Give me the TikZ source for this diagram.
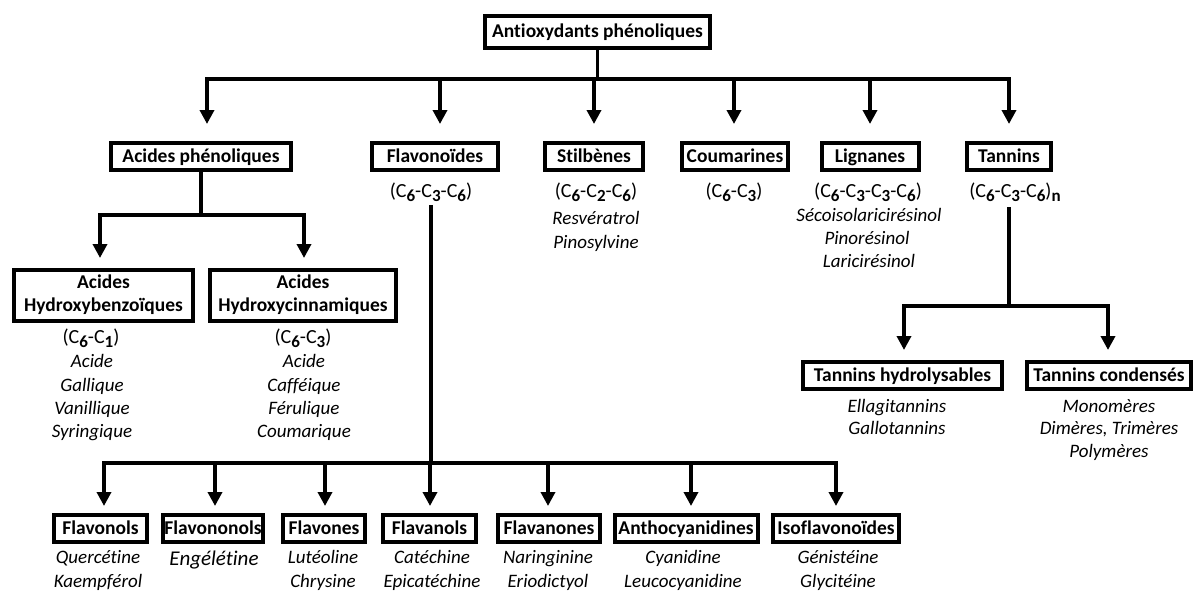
\documentclass[tikz,border=0pt]{standalone}
\usepackage{fontspec}
\setmainfont{Carlito}[Ligatures={NoCommon}]
\usetikzlibrary{arrows.meta}
\newcommand\sbb[1]{\raisebox{-4.5pt}{\fontsize{17}{17}\selectfont\bfseries #1}}
\begin{document}
\begin{tikzpicture}[x=1pt,y=-1pt,
 box/.style={draw, line width=4pt, inner sep=0pt, font=\bfseries\fontsize{19.5}{23}\selectfont, align=center},
 one/.style={text height=14.5pt, text depth=3.5pt},
 conn/.style={line width=3.5pt},
 arr/.style={line width=3.5pt, -{Triangle[width=14pt,length=14pt]}},
 frm/.style={font=\fontsize{20}{24}\selectfont, inner sep=0pt, anchor=base},
 itx/.style={font=\itshape\fontsize{19}{23}\selectfont, inner sep=0pt, anchor=base},
]
\useasboundingbox (0,0) rectangle (1195,592);
% boxes
\node[box, one, minimum width=225pt, minimum height=32pt] (top) at (597.5,32) {Antioxydants phénoliques};
\node[box, one, minimum width=180pt, minimum height=27pt] (acp) at (201,156.5) {Acides phénoliques};
\node[box, one, minimum width=126pt, minimum height=27pt] (flav) at (435,156.5) {Flavonoïdes};
\node[box, one, minimum width=98pt, minimum height=27pt] (stil) at (594,156.5) {Stilbènes};
\node[box, one, minimum width=106pt, minimum height=27pt] (coum) at (735,156.5) {Coumarines};
\node[box, one, minimum width=97pt, minimum height=27pt] (lig) at (870,156.5) {Lignanes};
\node[box, one, minimum width=84pt, minimum height=27pt] (tan) at (1009,156.5) {Tannins};
\node[box, minimum width=179pt, minimum height=51pt] (hb) at (103.5,295) {Acides\\Hydroxybenzoïques};
\node[box, minimum width=186pt, minimum height=51pt] (hc) at (303,295) {Acides\\Hydroxycinnamiques};
\node[box, one, minimum width=199pt, minimum height=27pt] (hyd) at (902.5,375.5) {Tannins hydrolysables};
\node[box, one, minimum width=164pt, minimum height=27pt] (cond) at (1109,375.5) {Tannins condensés};
\node[box, one, minimum width=93pt, minimum height=27pt] (flvl) at (100.5,528.5) {Flavonols};
\node[box, one, minimum width=100pt, minimum height=27pt] (flvn) at (213,528.5) {Flavononols};
\node[box, one, minimum width=82pt, minimum height=27pt] (flvs) at (324,528.5) {Flavones};
\node[box, one, minimum width=93pt, minimum height=27pt] (flnl) at (429.5,528.5) {Flavanols};
\node[box, one, minimum width=102pt, minimum height=27pt] (flnn) at (549,528.5) {Flavanones};
\node[box, one, minimum width=143pt, minimum height=27pt] (anth) at (686,528.5) {Anthocyanidines};
\node[box, one, minimum width=126pt, minimum height=27pt] (iso) at (836,528.5) {Isoflavonoïdes};
% formulas
\node[frm] (fform) at (431,197) {(C\sbb6-C\sbb3-C\sbb6)};
\node[frm] (sform) at (596,197) {(C\sbb6-C\sbb2-C\sbb6)};
\node[frm] (cform) at (734,197) {(C\sbb6-C\sbb3)};
\node[frm] (lform) at (868,197) {(C\sbb6-C\sbb3-C\sbb3-C\sbb6)};
\node[frm] (tform) at (1015,197) {(C\sbb6-C\sbb3-C\sbb6)\sbb{n}};
\node[frm] (hbform) at (91,343) {(C\sbb6-C\sbb1)};
\node[frm] (hcform) at (303,343) {(C\sbb6-C\sbb3)};
% examples
\node[itx] (s1) at (596,224) {Resvératrol};
\node[itx] (s2) at (596,248) {Pinosylvine};
\node[itx] (l1) at (869,221) {Sécoisolaricirésinol};
\node[itx] (l2) at (867,244) {Pinorésinol};
\node[itx] (l3) at (869,267) {Laricirésinol};
\node[itx] (a1) at (92,367) {Acide};
\node[itx] (a2) at (92,391) {Gallique};
\node[itx] (a3) at (92,414) {Vanillique};
\node[itx] (a4) at (92,437) {Syringique};
\node[itx] (c1) at (304,367) {Acide};
\node[itx] (c2) at (304,391) {Cafféique};
\node[itx] (c3) at (304,414) {Férulique};
\node[itx] (c4) at (304,437) {Coumarique};
\node[itx] (t1) at (897,412) {Ellagitannins};
\node[itx] (t2) at (897,434) {Gallotannins};
\node[itx] (t3) at (1109,412) {Monomères};
\node[itx] (t4) at (1109,434) {Dimères, Trimères};
\node[itx] (t5) at (1109,457) {Polymères};
\node[itx] (b1) at (98,563) {Quercétine};
\node[itx] (b2) at (98,587) {Kaempférol};
\node[itx, font=\itshape\fontsize{21}{24}\selectfont] (b3) at (214,565) {Engélétine};
\node[itx] (b4) at (323,563) {Lutéoline};
\node[itx] (b5) at (323,587) {Chrysine};
\node[itx] (b6) at (432,563) {Catéchine};
\node[itx] (b7) at (432,587) {Epicatéchine};
\node[itx] (b8) at (548,563) {Naringinine};
\node[itx] (b9) at (548,587) {Eriodictyol};
\node[itx] (b10) at (683,563) {Cyanidine};
\node[itx] (b11) at (683,587) {Leucocyanidine};
\node[itx] (b12) at (838,563) {Génistéine};
\node[itx] (b13) at (838,587) {Glycitéine};
% connectors
\coordinate (hub) at (597.5,79);
\draw[conn] (top.south) -- (hub);
\draw[arr, shorten >=17pt] (hub) -| ([xshift=6pt]acp.north);
\draw[arr, shorten >=17pt] (hub) -| ([xshift=5pt]flav.north);
\draw[arr, shorten >=17pt] (hub) -| (stil.north);
\draw[arr, shorten >=17pt] (hub) -| ([xshift=-1pt]coum.north);
\draw[arr, shorten >=17pt] (hub) -| (lig.north);
\draw[arr, shorten >=17pt] (hub) -| (tan.north);
\coordinate (ahub) at (201,215);
\draw[conn] (acp) -- (ahub);
\draw[arr, shorten >=9.5pt] (ahub) -| ([xshift=-3.5pt]hb.north);
\draw[arr, shorten >=9.5pt] (ahub) -| ([xshift=1pt]hc.north);
\coordinate (fhub) at (431,463);
\draw[conn, shorten <=3pt] (fform.south) -- (fhub);
\draw[arr, shorten >=7pt] (fhub) -| ([xshift=3.5pt]flvl.north);
\draw[arr, shorten >=7pt] (fhub) -| ([xshift=2pt]flvn.north);
\draw[arr, shorten >=7pt] (fhub) -| ([xshift=1pt]flvs.north);
\draw[arr, shorten >=7pt] (fhub) -| ([xshift=0.5pt]flnl.north);
\draw[arr, shorten >=7pt] (fhub) -| ([xshift=-1pt]flnn.north);
\draw[arr, shorten >=7pt] (fhub) -| ([xshift=5pt]anth.north);
\draw[arr, shorten >=7pt] (fhub) -| (iso.north);
\coordinate (thub) at (1009,306);
\draw[conn, shorten <=35pt] (tan) -- (thub);
\draw[arr, shorten >=10pt] (thub) -| ([xshift=1.5pt]hyd.north);
\draw[arr, shorten >=10pt] (thub) -| ([xshift=-1pt]cond.north);
\end{tikzpicture}
\end{document}
